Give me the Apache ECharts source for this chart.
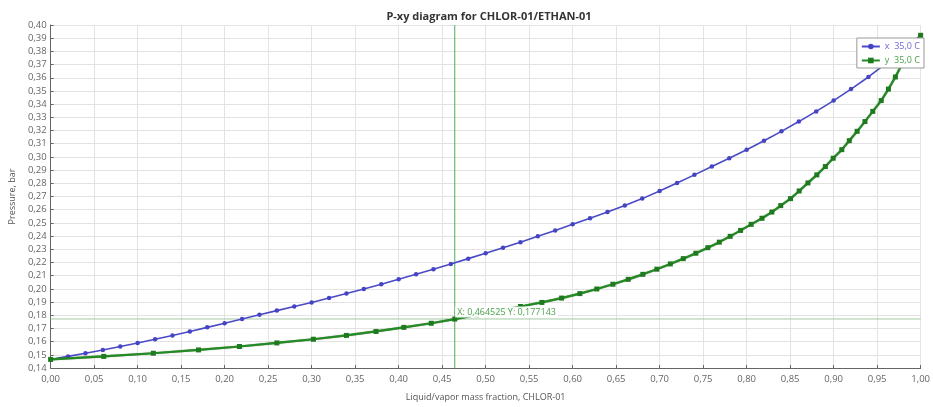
<!DOCTYPE html>
<html>
<head>
<meta charset="utf-8">
<script src="https://cdn.jsdelivr.net/npm/echarts@6/dist/echarts.min.js"></script>
<style>html,body{margin:0;padding:0;background:#fff}#c{width:933px;height:407px}</style>
</head>
<body>
<div id="c"></div>
<script>
// Liquid mass fraction (bubble curve, x) at each computed point
const liquidX = [0.00,0.02,0.04,0.06,0.08,0.10,0.12,0.14,0.16,0.18,0.20,0.22,0.24,0.26,0.28,0.30,0.32,0.34,0.36,0.38,0.40,0.42,0.44,0.46,0.48,0.50,0.52,0.54,0.56,0.58,0.60,0.62,0.64,0.66,0.68,0.70,0.72,0.74,0.76,0.78,0.80,0.82,0.84,0.86,0.88,0.90,0.92,0.94,0.96,0.98,1.00];
// Pressure, bar at each point
const pressure = [0.1465,0.1488,0.1512,0.1537,0.1563,0.1590,0.1618,0.1647,0.1677,0.1708,0.1739,0.1771,0.1803,0.1835,0.1866,0.1897,0.1930,0.1964,0.1999,0.2035,0.2072,0.2110,0.2149,0.2189,0.2229,0.2270,0.2312,0.2354,0.2398,0.2443,0.2489,0.2535,0.2582,0.2631,0.2684,0.2742,0.2803,0.2864,0.2927,0.2990,0.3055,0.3123,0.3194,0.3268,0.3345,0.3427,0.3514,0.3606,0.3708,0.3812,0.3922];
// Vapor mass fraction (dew curve, y) at the same pressures
const vaporY = [0.000,0.061,0.118,0.170,0.217,0.260,0.302,0.340,0.374,0.406,0.4375,0.4645,0.490,0.515,0.540,0.5647,0.5873,0.6083,0.6278,0.6463,0.6639,0.6807,0.6968,0.7123,0.7272,0.7416,0.7554,0.7686,0.7811,0.7931,0.8052,0.8177,0.8290,0.8392,0.8505,0.8604,0.8705,0.8807,0.8905,0.8995,0.9094,0.918,0.927,0.936,0.945,0.9547,0.963,0.971,0.979,0.989,1.000];
const seriesNames = ['x', 'y'];
const legendLabels = ['x  35,0 C', 'y  35,0 C'];
const cursorX = 0.464525;
const cursorY = 0.177143;
const xRange = [0, 1];
const yRange = [0.14, 0.40];

const fmt = v => v.toFixed(2).replace('.', ',');
const FONT = 'Open Sans';

const chart = echarts.init(document.getElementById('c'));
chart.setOption({
  animation: false,
  textStyle: { fontFamily: FONT },
  title: {
    text: 'P-xy diagram for CHLOR-01/ETHAN-01',
    left: 484, top: 6, textAlign: 'center',
    textStyle: { fontSize: 11, fontWeight: 'bold', color: '#333', fontFamily: FONT }
  },
  legend: {
    orient: 'vertical', right: 9, top: 38, z: 20, zlevel: 1,
    backgroundColor: '#ffffff', borderColor: '#999', borderWidth: 1, borderRadius: 0,
    padding: [4, 4, 3, 4], itemGap: 5, itemWidth: 18, itemHeight: 7,
    data: seriesNames,
    formatter: n => n === 'x' ? '{b|' + legendLabels[0] + '}' : '{g|' + legendLabels[1] + '}',
    textStyle: {
      fontSize: 9, fontFamily: FONT,
      rich: { b: { color: '#6b6bd6', fontSize: 9 }, g: { color: '#4c9e4c', fontSize: 9 } }
    }
  },
  grid: { left: 43, right: 7, top: 25, bottom: 34, containLabel: false },
  xAxis: {
    type: 'value', min: xRange[0], max: xRange[1], interval: 0.05,
    name: 'Liquid/vapor mass fraction, CHLOR-01',
    nameLocation: 'middle', nameGap: 25,
    nameTextStyle: { fontSize: 9, color: '#555', fontFamily: FONT },
    axisLine: { show: true, lineStyle: { color: '#666' } },
    axisTick: { show: true, inside: true, length: 3, lineStyle: { color: '#666' } },
    axisLabel: { formatter: fmt, fontSize: 9.5, color: '#666', margin: 6, fontFamily: FONT },
    splitLine: { show: true, lineStyle: { color: '#e3e3e3' } }
  },
  yAxis: {
    type: 'value', min: yRange[0], max: yRange[1], interval: 0.01,
    name: 'Pressure, bar',
    nameLocation: 'middle', nameGap: 27, nameRotate: 90,
    nameTextStyle: { fontSize: 9, color: '#555', fontFamily: FONT },
    axisLine: { show: true, lineStyle: { color: '#666' } },
    axisTick: { show: true, inside: true, length: 3, lineStyle: { color: '#666' } },
    axisLabel: { formatter: fmt, fontSize: 9.5, color: '#666', margin: 4, fontFamily: FONT },
    splitLine: { show: true, lineStyle: { color: '#e3e3e3' } }
  },
  series: [
    {
      name: 'cursorV', type: 'line', silent: true,
      data: [[cursorX, yRange[0]], [cursorX, yRange[1]]],
      showSymbol: false, symbol: 'none',
      lineStyle: { color: '#4fae4f', width: 1 }, z: 2
    },
    {
      name: 'cursorH', type: 'line', silent: true,
      data: [[xRange[0], cursorY], [xRange[1], cursorY]],
      showSymbol: false, symbol: 'none',
      lineStyle: { color: '#a3cba3', width: 1 }, z: 2
    },
    {
      name: seriesNames[0], type: 'line',
      data: liquidX.map((x, i) => [x, pressure[i]]),
      symbol: 'circle', symbolSize: 4.5, showSymbol: true,
      itemStyle: { color: '#4444c4' },
      lineStyle: { color: '#4a4ac8', width: 1.6 },
      z: 3
    },
    {
      name: seriesNames[1], type: 'line',
      data: vaporY.map((y, i) => [y, pressure[i]]),
      symbol: 'rect', symbolSize: 5, showSymbol: true,
      itemStyle: { color: '#1f7a1f' },
      lineStyle: { color: '#228b22', width: 2.2, shadowColor: 'rgba(0,40,0,0.5)', shadowBlur: 1 },
      z: 4,
      markPoint: {
        symbol: 'rect', symbolSize: 1,
        itemStyle: { color: 'rgba(0,0,0,0)' },
        data: [{ coord: [cursorX, cursorY] }],
        label: {
          show: true, position: 'right', distance: 0, offset: [0, -7],
          formatter: 'X: ' + String(cursorX).replace('.', ',') + ' Y: ' + String(cursorY).replace('.', ','),
          color: '#4f9f4f', fontSize: 9, fontFamily: FONT,
          backgroundColor: 'rgba(255,255,255,0.95)', padding: [1, 2, 1, 2]
        },
        z: 10
      }
    }
  ]
});
</script>
</body>
</html>
